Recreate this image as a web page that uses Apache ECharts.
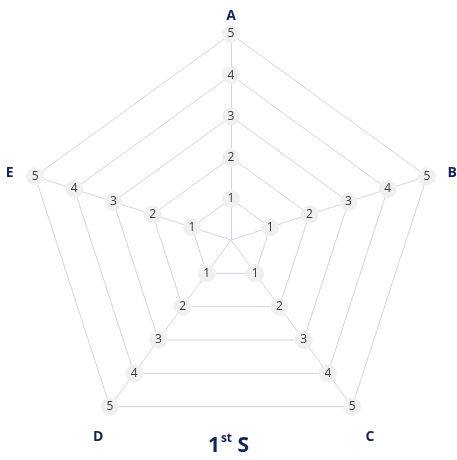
<!DOCTYPE html>
<html>
<head>
<meta charset="utf-8">
<script src="https://cdn.jsdelivr.net/npm/echarts@6/dist/echarts.min.js"></script>
<style>
  html, body { margin: 0; padding: 0; background: #ffffff; }
  #chart { width: 457px; height: 460px; }
</style>
</head>
<body>
<div id="chart"></div>
<script>
const categories = ['A', 'B', 'C', 'D', 'E'];
const maxValue = 5;
const tickLabels = ['1', '2', '3', '4', '5'];
const titleMain = '1';
const titleSup = 'st';
const titleTail = ' S';

const lineColor = '#d3d5ea';
const navy = '#14235a';
const font = 'Open Sans';

// ECharts lays indicators out counter-clockwise; reorder so A..E run clockwise.
const clockwise = [categories[0]].concat(categories.slice(1).reverse());
const nameStyle = { B: 'right', E: 'left', C: 'lowR', D: 'lowL' };

const chart = echarts.init(document.getElementById('chart'), null, { renderer: 'canvas' });

const baseName = { color: navy, fontFamily: font, fontWeight: 'bold', fontSize: 14 };

chart.setOption({
  backgroundColor: '#ffffff',
  animation: false,
  title: {
    text: '{a|' + titleMain + '}{b|' + titleSup + '}{a|' + titleTail + '}',
    left: 'center',
    top: 428,
    textStyle: {
      rich: {
        a: { fontFamily: font, fontSize: 21, fontWeight: 'bold', color: navy, lineHeight: 26 },
        b: { fontFamily: font, fontSize: 12, fontWeight: 'bold', color: navy, verticalAlign: 'top', lineHeight: 26, padding: [0, 0, 8, 1] }
      }
    }
  },
  radar: {
    center: [231, 240],
    radius: 206,
    startAngle: 90,
    shape: 'polygon',
    splitNumber: 5,
    nameGap: 11,
    axisName: Object.assign({}, baseName, {
      formatter: function (name) {
        const s = nameStyle[name];
        return s ? '{' + s + '|' + name + '}' : name;
      },
      rich: {
        right: Object.assign({}, baseName, { padding: [0, 0, 0, 10] }),
        left: Object.assign({}, baseName, { padding: [0, 11, 0, 0] }),
        lowR: Object.assign({}, baseName, { lineHeight: 57, verticalAlign: 'bottom', padding: [0, 0, 0, 7] }),
        lowL: Object.assign({}, baseName, { lineHeight: 57, verticalAlign: 'bottom' })
      }
    }),
    indicator: clockwise.map(name => ({ name: name, min: 0, max: maxValue })),
    axisLine: { show: true, lineStyle: { color: lineColor, width: 1 } },
    splitLine: { show: true, lineStyle: { color: lineColor, width: 1 } },
    splitArea: { show: false },
    axisTick: { show: false },
    axisLabel: {
      show: true,
      showMinLabel: false,
      margin: 0,
      align: 'center',
      verticalAlign: 'middle',
      fontFamily: font,
      fontSize: 12,
      color: '#3a3a3a',
      backgroundColor: '#f0f0f3',
      borderRadius: 9,
      padding: [3, 5, 2, 5],
      width: 8,
      lineHeight: 13,
      formatter: function (v) {
        const i = Math.round(v) - 1;
        return i >= 0 && i < tickLabels.length ? tickLabels[i] : '';
      }
    }
  },
  series: []
});
</script>
</body>
</html>
